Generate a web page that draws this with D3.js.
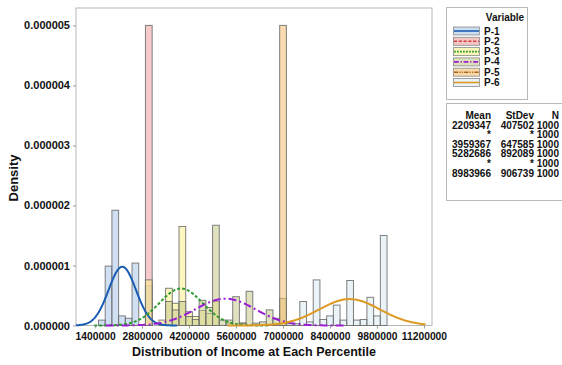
<!DOCTYPE html>
<html>
<head>
<meta charset="utf-8">
<script src="https://cdn.jsdelivr.net/npm/d3@7.9.0/dist/d3.min.js"></script>
<style>
  body { margin: 0; background: #fff; }
  svg { font-family: "Liberation Sans", Arial, sans-serif; font-weight: bold; }
</style>
</head>
<body>
<svg id="chart" width="562" height="365"></svg>
<script>
// --- data ---
const variables = ['P-1', 'P-2', 'P-3', 'P-4', 'P-5', 'P-6'];

// histogram bins (bin centre, density); bin width 200000
const binWidth = 200000;
const p1Bins = [[1600000, 0.09e-6], [1800000, 0.99e-6], [2000000, 1.92e-6], [2200000, 0.16e-6],
  [2400000, 0.12e-6], [2600000, 1.04e-6], [3000000, 0.66e-6]];
const p2Bins = [[3000000, 5.0e-6]];
const p3Bins = [[3000000, 0.76e-6], [3400000, 0.09e-6], [3600000, 0.62e-6], [3800000, 0.37e-6],
  [4000000, 1.65e-6], [4200000, 0.23e-6], [4400000, 0.15e-6], [4600000, 0.25e-6],
  [4800000, 0.2e-6], [5000000, 0.4e-6], [5400000, 0.04e-6], [5800000, 0.04e-6]];
const p4Bins = [[3600000, 0.4e-6], [3800000, 0.26e-6], [4000000, 0.4e-6], [4200000, 0.15e-6],
  [4400000, 0.1e-6], [4600000, 0.42e-6], [4800000, 0.3e-6], [5000000, 1.67e-6],
  [5200000, 0.09e-6], [5400000, 0.09e-6], [5600000, 0.48e-6], [5800000, 0.04e-6],
  [6000000, 0.57e-6], [6200000, 0.04e-6], [6400000, 0.06e-6], [6600000, 0.26e-6],
  [6800000, 0.12e-6], [7000000, 0.45e-6]];
const p5Bins = [[7000000, 5.0e-6]];
const p6Bins = [[7200000, 0.03e-6], [7400000, 0.03e-6], [7600000, 0.4e-6], [7800000, 0.06e-6],
  [8000000, 0.76e-6], [8200000, 0.1e-6], [8400000, 0.16e-6], [8600000, 0.34e-6],
  [8800000, 0.09e-6], [9000000, 0.75e-6], [9200000, 0.09e-6], [9400000, 0.1e-6],
  [9600000, 0.47e-6], [9800000, 0.16e-6], [10000000, 1.5e-6]];
const allBins = [p1Bins, p2Bins, p3Bins, p4Bins, p5Bins, p6Bins];

// summary table
const means = [2209347, null, 3959367, 5282686, null, 8983966];
const stdevs = [407502, null, 647585, 892089, null, 906739];
const counts = [1000, 1000, 1000, 1000, 1000, 1000];

const xTicks = [1400000, 2800000, 4200000, 5600000, 7000000, 8400000, 9800000, 11200000];
const yTicks = [0, 0.000001, 0.000002, 0.000003, 0.000004, 0.000005];

// --- styles ---
const fills = ['#a9c6e8', '#ee9f9f', '#fbf08a', '#c4c98a', '#f6c070', '#d9e9f3'];
const lineColors = ['#1b5cb3', '#d23c3c', '#2f9a2f', '#9a1fd4', '#a8641e', '#dd9a22'];
const dashes = [null, '5,3', '3,2', '8,3,2,3', '7,2,2,2,2,2', null];

const svg = d3.select('#chart');
const plotLeft = 76, plotRight = 432, plotTop = 8, plotBottom = 325.5;

const x = d3.scaleLinear().domain([830000, 11440000]).range([plotLeft, plotRight]);
const y = d3.scaleLinear().domain([0, 5.29e-6]).range([plotBottom, plotTop]);

// plot frame
svg.append('rect')
  .attr('x', plotLeft).attr('y', plotTop)
  .attr('width', plotRight - plotLeft).attr('height', plotBottom - plotTop)
  .attr('fill', 'none').attr('stroke', '#b8b8b8').attr('stroke-width', 1);

const plot = svg.append('g');

// histogram bars, later variables drawn on top
allBins.forEach((bins, i) => {
  plot.append('g')
    .selectAll('rect')
    .data(bins)
    .join('rect')
    .attr('x', d => x(d[0] - binWidth / 2))
    .attr('width', d => x(d[0] + binWidth / 2) - x(d[0] - binWidth / 2))
    .attr('y', d => y(d[1]))
    .attr('height', d => y(0) - y(d[1]))
    .attr('fill', fills[i])
    .attr('fill-opacity', 0.55)
    .attr('stroke', '#6a6a6a')
    .attr('stroke-opacity', 0.85)
    .attr('stroke-width', 1);
});

// fitted normal curves
function normalPdf(v, m, s) {
  return Math.exp(-0.5 * ((v - m) / s) ** 2) / (s * Math.sqrt(2 * Math.PI));
}
const curveLine = d3.line().x(d => x(d[0])).y(d => y(d[1]));

means.forEach((m, i) => {
  if (m === null) return;
  const s = stdevs[i];
  const lo = Math.max(830000, m - 4 * s);
  const hi = Math.min(11250000, m + 4 * s);
  const pts = d3.range(lo, hi, (hi - lo) / 200).concat([hi]).map(v => [v, normalPdf(v, m, s)]);
  plot.append('path')
    .attr('d', curveLine(pts))
    .attr('fill', 'none')
    .attr('stroke', lineColors[i])
    .attr('stroke-width', 2)
    .attr('stroke-dasharray', dashes[i]);
});

// axes
const xAxis = svg.append('g')
  .attr('transform', `translate(0,${plotBottom})`)
  .call(d3.axisBottom(x).tickValues(xTicks).tickFormat(d3.format('d')).tickSize(3).tickPadding(4));
xAxis.select('.domain').remove();
xAxis.selectAll('line').attr('stroke', '#999');
xAxis.selectAll('text').attr('font-size', 10.3).attr('fill', '#111')
  .attr('font-family', '"Liberation Sans", Arial, sans-serif').attr('font-weight', 'bold');

const yAxis = svg.append('g')
  .attr('transform', `translate(${plotLeft},0)`)
  .call(d3.axisLeft(y).tickValues(yTicks).tickFormat(d3.format('.6f')).tickSize(3).tickPadding(3));
yAxis.select('.domain').remove();
yAxis.selectAll('line').attr('stroke', '#999');
yAxis.selectAll('text').attr('font-size', 11).attr('fill', '#111')
  .attr('font-family', '"Liberation Sans", Arial, sans-serif').attr('font-weight', 'bold');

// axis titles
svg.append('text')
  .attr('x', 254).attr('y', 356)
  .attr('text-anchor', 'middle')
  .attr('font-size', 12.5).attr('fill', '#111')
  .text('Distribution of Income at Each Percentile');

svg.append('text')
  .attr('transform', 'translate(18,178) rotate(-90)')
  .attr('text-anchor', 'middle')
  .attr('font-size', 13).attr('fill', '#111')
  .text('Density');

// legend
const legend = svg.append('g');
legend.append('rect')
  .attr('x', 446.5).attr('y', 7.5).attr('width', 81).attr('height', 92)
  .attr('fill', '#fff').attr('stroke', '#b8b8b8');
legend.append('text')
  .attr('x', 505).attr('y', 21)
  .attr('text-anchor', 'middle')
  .attr('font-size', 10).attr('fill', '#111')
  .text('Variable');

const rowY = d3.scaleLinear().domain([0, 5]).range([31, 82.5]);
variables.forEach((name, i) => {
  const cy = rowY(i);
  legend.append('rect')
    .attr('x', 453.5).attr('y', cy - 4).attr('width', 26).attr('height', 8)
    .attr('fill', fills[i]).attr('fill-opacity', 0.6)
    .attr('stroke', '#8a8a8a').attr('stroke-width', 0.8);
  legend.append('line')
    .attr('x1', 454).attr('x2', 479).attr('y1', cy).attr('y2', cy)
    .attr('stroke', lineColors[i]).attr('stroke-width', 1.6)
    .attr('stroke-dasharray', dashes[i] ? dashes[i].split(',').map(v => v * 0.6).join(',') : null);
  legend.append('text')
    .attr('x', 484).attr('y', cy + 3.5)
    .attr('font-size', 10).attr('fill', '#111')
    .text(name);
});

// summary table
const table = svg.append('g');
table.append('rect')
  .attr('x', 446.5).attr('y', 103.5).attr('width', 120).attr('height', 97)
  .attr('fill', '#fff').attr('stroke', '#b8b8b8');

const colRight = [491, 534, 559];
const headers = ['Mean', 'StDev', 'N'];
headers.forEach((h, j) => {
  table.append('text')
    .attr('x', colRight[j]).attr('y', 118.5)
    .attr('text-anchor', 'end').attr('font-size', 10).attr('fill', '#111')
    .text(h);
});
variables.forEach((name, i) => {
  const ty = 128.5 + i * 9.6;
  const cells = [
    means[i] === null ? '*' : String(means[i]),
    stdevs[i] === null ? '*' : String(stdevs[i]),
    String(counts[i])
  ];
  cells.forEach((c, j) => {
    table.append('text')
      .attr('x', colRight[j]).attr('y', ty)
      .attr('text-anchor', 'end').attr('font-size', 10).attr('fill', '#111')
      .text(c);
  });
});
</script>
</body>
</html>
